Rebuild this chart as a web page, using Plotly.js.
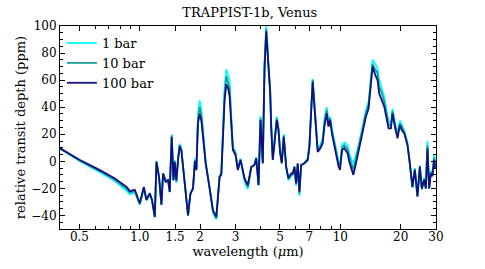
<!DOCTYPE html>
<html>
<head>
<meta charset="utf-8">
<script src="https://cdn.plot.ly/plotly-3.0.1.min.js"></script>
<style>html,body{margin:0;padding:0;background:#fff}#chart{width:485px;height:269px}</style>
</head>
<body>
<div id="chart"></div>
<script>
// wavelength (micron)
const wavelength = [0.400,0.503,0.632,0.751,0.862,0.892,0.944,0.970,1.000,1.047,1.080,1.121,1.151,1.188,1.211,1.247,1.282,1.306,1.347,1.383,1.410,1.443,1.472,1.493,1.522,1.551,1.581,1.612,1.655,1.694,1.740,1.788,1.842,1.884,1.915,1.950,1.988,2.028,2.065,2.130,2.230,2.316,2.407,2.452,2.500,2.550,2.597,2.648,2.700,2.756,2.804,2.853,2.912,3.003,3.083,3.180,3.330,3.458,3.595,3.734,3.808,3.909,3.999,4.106,4.187,4.270,4.319,4.384,4.470,4.521,4.605,4.695,4.821,4.915,5.012,5.105,5.223,5.370,5.512,5.685,5.790,5.904,6.020,6.132,6.252,6.375,6.622,6.877,7.013,7.150,7.283,7.425,7.571,7.712,7.954,8.166,8.327,8.549,8.718,8.889,9.095,9.336,9.586,9.806,9.966,10.20,10.47,10.87,11.09,11.61,11.97,12.43,12.91,13.42,13.83,14.21,14.48,14.93,15.33,15.63,16.13,16.56,17.00,17.40,17.88,18.21,18.78,19.28,19.82,20.28,20.82,21.62,22.22,22.89,23.53,24.25,24.92,25.50,26.18,26.70,27.19,27.73,28.27,28.79,29.36,29.70];

// relative transit depth (ppm)
const depth1bar = [9.6,0.0,-8.0,-14.6,-22,-24.5,-23,-27,-32,-20,-29,-24,-29,-41.5,0.5,-12,-32,-9,-15.5,-13,-23,20,-14,1,-16,2,13,9,-10,-22,-40,-24,-20,2,-5,34,45,38,22,0,-20,-38,-43,-30,-10.5,-8,18,55,68,64,60,36,11,7,-5.5,2,-15,-20.5,-5,-2,3,-18,33.5,0,73,100,90,69,54,28,2,15,33,25,7,0,20,-5,-14,-11,-10,-4,-18,-2,-25.5,-3,-1,2,12,38,61,44,27,9,12,17,31,40,31,33,24,15,6,0,-2,12,14,12,6,-2,5,14,26,38,44,62,75,72,69,60,54,48,38,30,28,39,28,21,30,27,23,14,0,-19.5,-5,-26,-3,-21,-12,-20,15,-20,-7,-9,5,-1];

const depth10bar = [9.6,0.5,-7.2,-13.6,-20.5,-23,-22,-26.5,-31.5,-19.5,-28.5,-24,-29,-41,0,-11.5,-32,-9,-15,-13.5,-22.5,19,-14,0,-15,1.5,12,8.5,-9.5,-21.5,-40,-24,-20,1,-6,31,40,34,20,-1,-20,-37,-42,-29,-11,-9,17,50,63,59,54,33,9.5,5.5,-6,1.5,-13.5,-19,-4.5,-2.5,2.5,-17.5,32,-1,70,98,87,67,52,27,1.5,14,32,24,6.5,-1,19,-4.5,-13,-10,-9.5,-4,-17,-2,-24,-3,-1.5,1.5,11.5,37,60,42,25,8,11,15,28,38,28,32,22,13,4,-2,-4,10,12,9,3,-6,2,12,24,36,42,59,72,68,65,55,50,44,35,27,26,37,26,19,28,25,22,13,-1,-19,-5.5,-26,-3.5,-20.5,-13,-20,12,-20,-8,-10,3,-3];

const depth100bar = [9.6,1.0,-6.5,-12.7,-19,-22,-21,-26,-31,-19,-28.5,-23.5,-28.5,-41,-0.5,-11.5,-32,-9,-15,-14,-22.5,18,-14,-0.5,-14,1,11,8,-9,-21,-40,-24,-20,0,-6.5,28,35,30,18,-1.5,-20,-36,-41,-28.5,-11.5,-10,15.7,45,57,54,48,30,8.4,4.7,-6.4,1,-12.6,-17.5,-4,-2.7,2.2,-17.5,30.5,-1.5,67.5,96,84.7,65,50,25.6,1,13.3,30.5,23,6,-1.5,18.2,-4,-12.6,-9,-9,-4,-16.3,-1.5,-22.5,-2.7,-1.5,1,10.8,35.5,58.8,40.4,23,7,9.6,13.3,25.6,35.5,25.6,30.5,20,11,2.2,-4,-6.4,8.4,9.6,6,-0.3,-10,-1.5,9.6,22,33,39,55,70,64,60,50,45,40.4,32,24.4,24.4,35.5,24.4,17,26.8,23,20.7,12,-1.5,-18.8,-6.4,-26,-4,-20,-13.8,-20,9.6,-20,-9,-11,1,-5];

const seriesNames = ['1 bar','10 bar','100 bar'];
const seriesColors = ['#00ffff','#1b9c9c','#101080'];

const xTickVals = [0.5,1,1.5,2,3,5,7,10,20,30];
const xTickText = ['0.5','1.0','1.5','2','3','5','7','10','20','30'];
const xMinorVals = [0.6,0.7,0.8,0.9,4,6,8,9];

const FONT = 'DejaVu Serif, Liberation Serif, serif';
const allSeries = [depth1bar, depth10bar, depth100bar];

const traces = allSeries.map((ys, i) => ({
  x: wavelength, y: ys, type: 'scatter', mode: 'lines',
  name: seriesNames[i],
  line: {color: seriesColors[i], width: 1.8}
}));

const layout = {
  width: 485, height: 269,
  margin: {l: 60, r: 49, t: 26, b: 40},
  paper_bgcolor: '#fff', plot_bgcolor: '#fff',
  font: {family: FONT, color: '#000', size: 12},
  title: {text: 'TRAPPIST-1b, Venus', font: {family: FONT, size: 13, color: '#000'}, x: 0.515, xanchor: 'center', y: 0.955, yanchor: 'middle'},
  showlegend: true,
  legend: {x: 0.005, y: 0.99, xanchor: 'left', yanchor: 'top', bgcolor: 'rgba(0,0,0,0)', font: {family: FONT, size: 13}, tracegroupgap: 0},
  xaxis: {
    type: 'log', range: [Math.log10(0.4), Math.log10(30)],
    tickmode: 'array', tickvals: xTickVals, ticktext: xTickText,
    ticks: 'inside', ticklen: 5, tickwidth: 1, tickcolor: '#000',
    minor: {tickmode: 'array', tickvals: xMinorVals, ticks: 'inside', ticklen: 3, tickwidth: 1, tickcolor: '#000', showgrid: false},
    showline: true, linecolor: '#000', linewidth: 1, mirror: 'ticks',
    showgrid: false, zeroline: false,
    ticklabelstandoff: -3,
    tickfont: {family: FONT, size: 12},
    title: {text: 'wavelength (<i>μ</i>m)', font: {family: FONT, size: 13}, standoff: 3}
  },
  yaxis: {
    range: [-50, 100], tick0: 0, dtick: 20,
    ticks: 'inside', ticklen: 5, tickwidth: 1, tickcolor: '#000',
    minor: {dtick: 5, ticks: 'inside', ticklen: 3, tickwidth: 1, tickcolor: '#000', showgrid: false},
    showline: true, linecolor: '#000', linewidth: 1, mirror: 'ticks',
    showgrid: false, zeroline: false,
    tickfont: {family: FONT, size: 12},
    title: {text: 'relative transit depth (ppm)', font: {family: FONT, size: 13}, standoff: 2}
  }
};

Plotly.newPlot('chart', traces, layout, {staticPlot: true, displayModeBar: false});
</script>
</body>
</html>
